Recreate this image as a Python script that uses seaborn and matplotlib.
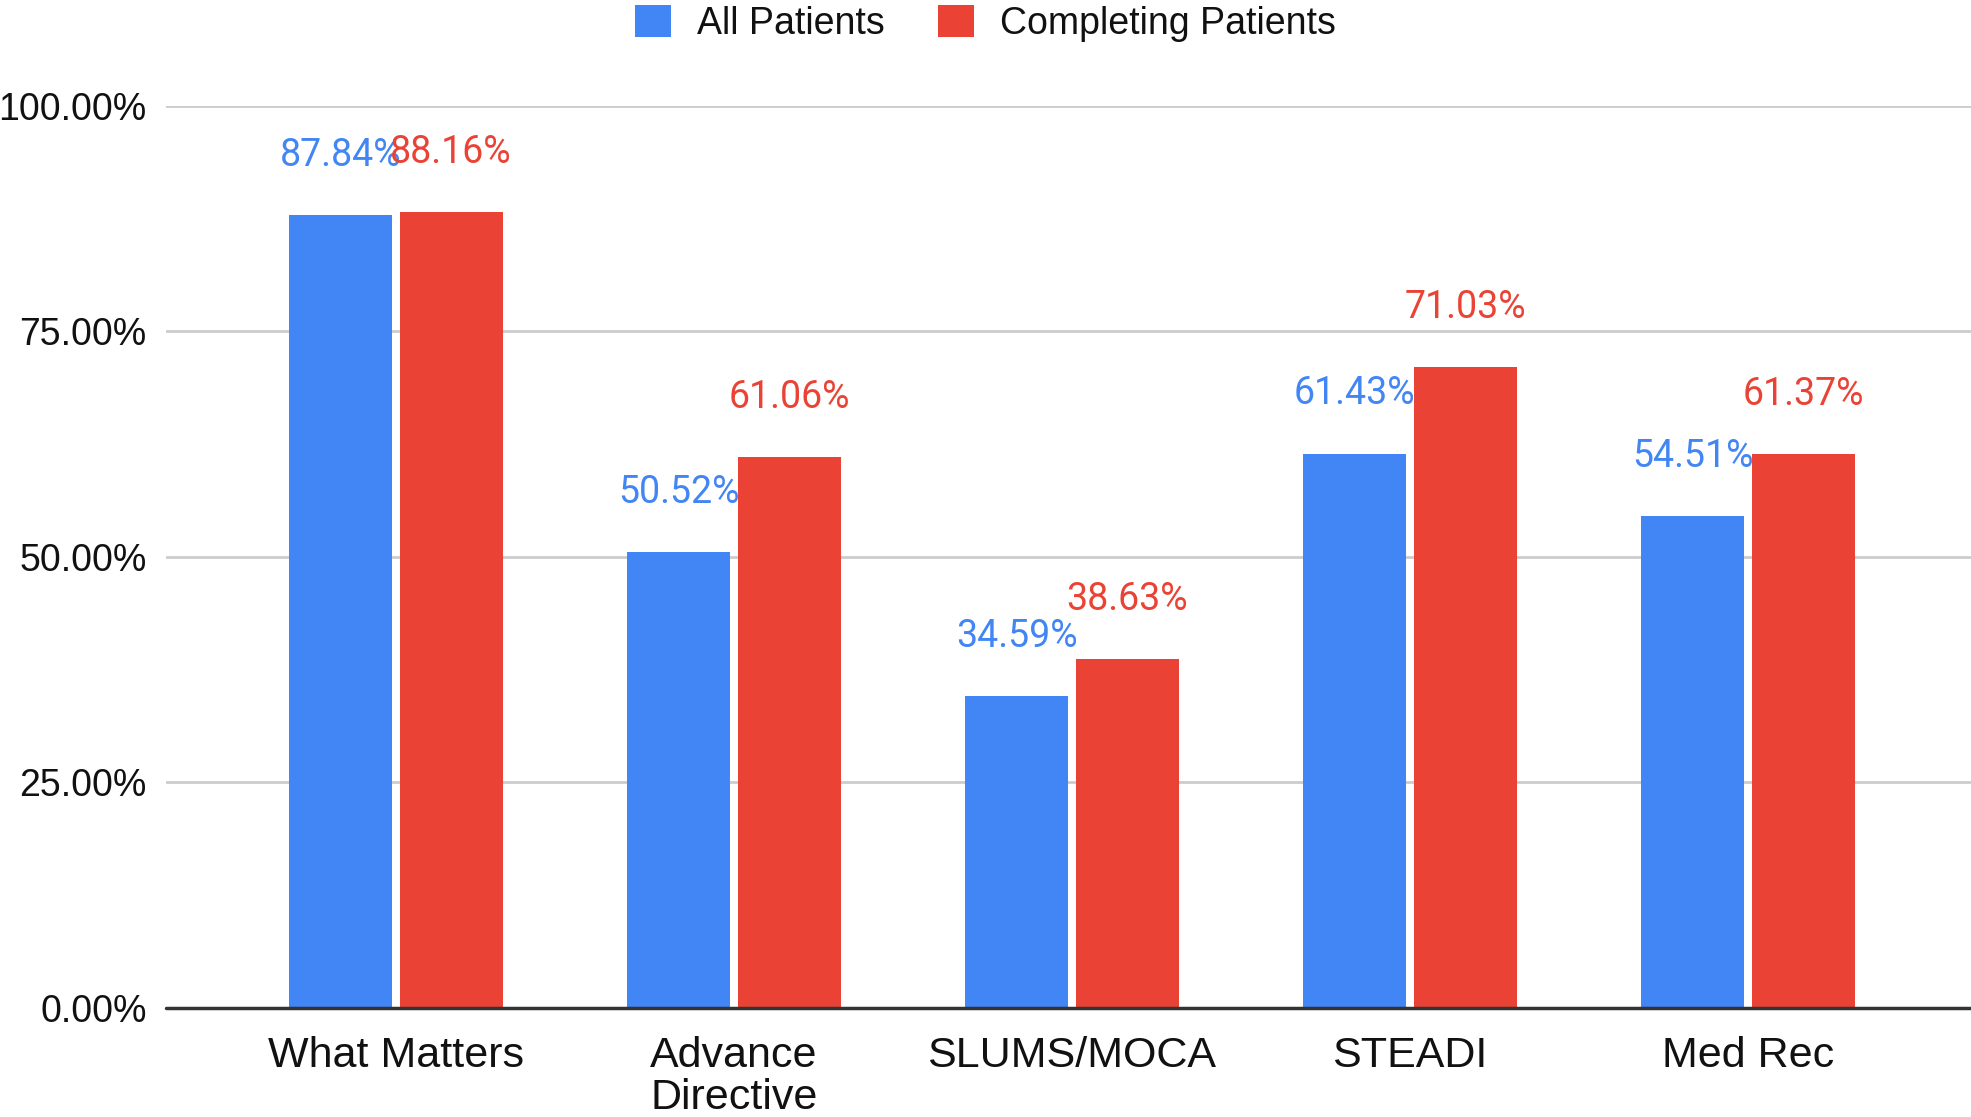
import matplotlib
matplotlib.use("Agg")
import matplotlib.pyplot as plt
import seaborn as sns
import pandas as pd

categories = ["What Matters", "Advance\nDirective", "SLUMS/MOCA", "STEADI", "Med Rec"]
all_patients = [87.84, 50.52, 34.59, 61.43, 54.51]
completing_patients = [88.16, 61.06, 38.63, 71.03, 61.37]
series_names = ["All Patients", "Completing Patients"]
colors = ["#4285F4", "#EA4335"]
y_ticks = [0, 25, 50, 75, 100]

df = pd.DataFrame({
    "category": categories * 2,
    "value": all_patients + completing_patients,
    "series": [series_names[0]] * len(categories) + [series_names[1]] * len(categories),
})

sns.set_theme(style="white")
plt.rcParams["font.family"] = ["Liberation Sans", "DejaVu Sans"]

fig = plt.figure(figsize=(19.71, 11.17), dpi=100)
ax = fig.add_axes([0.0842, 0.0976, 1 - 0.0842, 0.9055 - 0.0976])

sns.barplot(data=df, x="category", y="value", hue="series", order=categories,
            hue_order=series_names, palette=colors, width=0.654, gap=0.067,
            saturation=1, ax=ax, edgecolor="none", linewidth=0)

ax.set_ylim(0, 100)
ax.set_xlim(-0.68, 4.66)
ax.set_yticks(y_ticks)
ax.set_yticklabels([f"{v:.2f}%" for v in y_ticks], fontsize=27, color="#111111")
ax.tick_params(axis="y", length=0, pad=14)
ax.tick_params(axis="x", length=0, pad=20, labelsize=31, labelcolor="#111111")
for t in ax.get_xticklabels():
    t.set_linespacing(1.08)
ax.set_xlabel("")
ax.set_ylabel("")
for s in ax.spines.values():
    s.set_visible(False)
ax.yaxis.grid(True, color="#cccccc", linewidth=2)
ax.set_axisbelow(True)
ax.axhline(0, color="#333333", linewidth=2.5, zorder=3, clip_on=False)

for cont, col in zip(ax.containers, colors):
    for bar in cont:
        h = bar.get_height()
        ax.annotate(f"{h:.2f}%", (bar.get_x() + bar.get_width() / 2, h),
                    xytext=(0, 43), textcoords="offset points",
                    ha="center", va="center", fontsize=27, color=col,
                    family=["Roboto", "DejaVu Sans"])

handles, labels = ax.get_legend_handles_labels()
if ax.legend_:
    ax.legend_.remove()
fig.legend(handles, labels, loc="center", bbox_to_anchor=(0.5, 0.979), ncol=2,
           frameon=False, fontsize=27, handlelength=0.96, handleheight=0.96,
           handletextpad=0.7, columnspacing=1.4, labelcolor="#111111")

fig.savefig("out.png", dpi=100)
